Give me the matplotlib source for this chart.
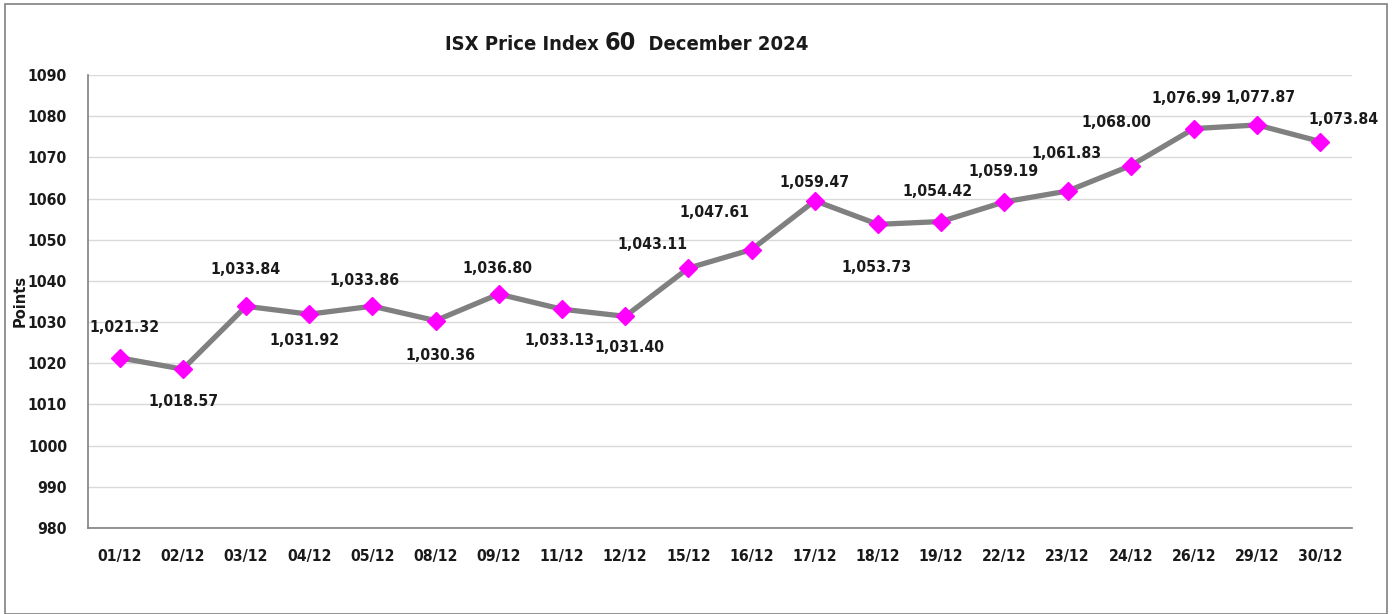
import matplotlib.pyplot as plt
from matplotlib.patches import Rectangle
from matplotlib import font_manager

# 数据
dates = ['01/12', '02/12', '03/12', '04/12', '05/12', '08/12', '09/12', '11/12',
         '12/12', '15/12', '16/12', '17/12', '18/12', '19/12', '22/12', '23/12',
         '24/12', '26/12', '29/12', '30/12']
values = [1021.32, 1018.57, 1033.84, 1031.92, 1033.86, 1030.36, 1036.80, 1033.13,
          1031.40, 1043.11, 1047.61, 1059.47, 1053.73, 1054.42, 1059.19, 1061.83,
          1068.00, 1076.99, 1077.87, 1073.84]

# 数据标签偏移 (像素, dy 向下为正)
lab_dx = [5, 1, 0, -5, -8, 5, -1, -2, 4, -36, -37, 0, -1, -4, -1, -1, -14, -7, 3, 23]
lab_dy = [-30, 32, -37, 26, -26, 35, -26, 31, 31, -24, -37, -18, 43, -30, -30, -38, -43, -30, -27, -22]

# 找一个窄字体
fl = font_manager.fontManager.ttflist
names = {f.name for f in fl}
stretch = 'normal'
if 'Liberation Sans Narrow' in names:
    fam = ['Liberation Sans Narrow', 'DejaVu Sans']
elif any(f.name == 'DejaVu Sans' and f.stretch == 'condensed' for f in fl):
    fam = ['DejaVu Sans']
    stretch = 'condensed'
else:
    fam = ['Lato', 'DejaVu Sans']
plt.rcParams['font.family'] = fam
plt.rcParams['font.weight'] = 'bold'
plt.rcParams['font.stretch'] = stretch
fs = 11.3

fig = plt.figure(figsize=(13.95, 6.14), dpi=100)
W, H = 1395, 614
ax = fig.add_axes([88 / W, 1 - 528 / H, (1352 - 88) / W, (528 - 75) / H])

x = list(range(len(dates)))
ax.plot(x, values, color='#808080', linewidth=3.8, zorder=3,
        marker='D', markersize=9, markerfacecolor='#ff00ff', markeredgecolor='#ff00ff')

for i, v in enumerate(values):
    ax.annotate(f'{v:,.2f}', (i, v), xytext=(lab_dx[i], -lab_dy[i]), textcoords='offset pixels',
                ha='center', va='center', fontsize=fs, fontweight='bold', color='#1a1a1a')

ax.set_xlim(-0.5, len(dates) - 0.5)
ax.set_ylim(980, 1090)
ax.set_yticks(range(980, 1091, 10))
ax.set_xticks(x)
ax.set_xticklabels(dates)
ax.tick_params(axis='both', length=0, labelsize=fs, colors='#1a1a1a')
ax.tick_params(axis='x', pad=15)
ax.tick_params(axis='y', pad=15)
ax.grid(axis='y', color='#d9d9d9', linewidth=1)
ax.set_axisbelow(True)
for sp in ['top', 'right']:
    ax.spines[sp].set_visible(False)
for sp in ['left', 'bottom']:
    ax.spines[sp].set_color('#808080')
    ax.spines[sp].set_linewidth(1.2)

fig.text(20 / W, 1 - 301 / H, 'Points', rotation=90, ha='center', va='center',
         fontsize=10.5, fontweight='bold', family='DejaVu Sans', stretch='normal', color='#1a1a1a')

# 标题 三段拼接, 60 大一号
parts = [('ISX Price Index ', 14.5), ('60', 18), ('  December 2024', 14.5)]
fig.canvas.draw()
r = fig.canvas.get_renderer()
tmp = [fig.text(0, 0, t, fontsize=s, fontweight='bold') for t, s in parts]
widths = [t.get_window_extent(r).width for t in tmp]
for t in tmp:
    t.remove()
xpos = 627 - sum(widths) / 2
for (t, s), w in zip(parts, widths):
    fig.text(xpos / W, 1 - 50 / H, t, fontsize=s, fontweight='bold', ha='left',
             va='baseline', color='#1a1a1a')
    xpos += w

fig.patches.append(Rectangle((5 / W, 0), (1387 - 5) / W, 1 - 4 / H, transform=fig.transFigure,
                             fill=False, edgecolor='#808080', linewidth=1.2))

fig.savefig('out.png', dpi=100)
